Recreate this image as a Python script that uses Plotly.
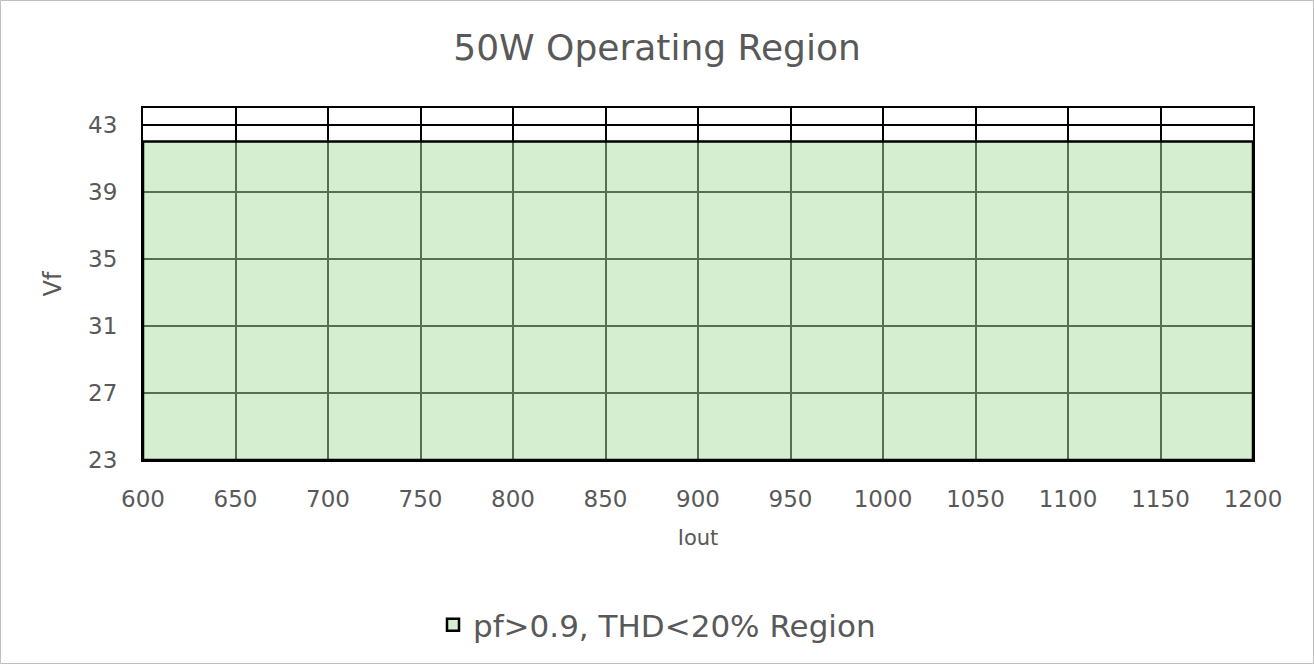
import plotly.graph_objects as go

iout = [600, 1200]
vf_low = [23, 23]
vf_high = [42, 42]
series_name = "pf>0.9, THD<20% Region"
x_ticks = list(range(600, 1201, 50))
y_ticks = [23, 27, 31, 35, 39, 43]

W, H = 1314, 664
L, R, T, B = 143, 61, 108, 204
pw, ph = W - L - R, H - T - B

fig = go.Figure()
fig.add_trace(go.Bar(
    x=[(iout[0] + iout[1]) / 2],
    y=[vf_high[0] - vf_low[0]],
    base=[vf_low[0]],
    width=[iout[1] - iout[0]],
    marker=dict(color="rgba(172,222,160,0.5)",
                line=dict(color="black", width=2.5)),
    name=series_name, showlegend=True, hoverinfo="skip",
))

font_family = "'DejaVu Sans', sans-serif"
gray = "#595959"

fig.update_layout(
    width=W, height=H,
    margin=dict(l=L, r=R, t=T, b=B),
    paper_bgcolor="white", plot_bgcolor="white",
    title=dict(text="50W Operating Region", x=0.5, xanchor="center",
               y=1 - 47 / H, yanchor="middle",
               font=dict(family=font_family, size=36, color=gray)),
    xaxis=dict(range=[600, 1200], tickvals=x_ticks, showgrid=True,
               gridcolor="black", gridwidth=2, zeroline=False,
               showline=True, linecolor="black", linewidth=2, mirror=True,
               tickfont=dict(family=font_family, size=23, color=gray),
               ticks="", ticklabelstandoff=17,
               title=dict(text="Iout", font=dict(family=font_family, size=21, color=gray), standoff=20)),
    yaxis=dict(range=[23, 44], tickvals=y_ticks, showgrid=True,
               gridcolor="black", gridwidth=2, zeroline=False,
               showline=True, linecolor="black", linewidth=2, mirror=True,
               tickfont=dict(family=font_family, size=23, color=gray),
               ticks="", ticklabelstandoff=19,
               title=dict(text="Vf", font=dict(family=font_family, size=24, color=gray), standoff=20)),
    legend=dict(orientation="h", x=(W / 2 - L) / pw, xanchor="center",
                y=(T + ph - 625) / ph, yanchor="middle",
                font=dict(family=font_family, size=31, color=gray),
                bgcolor="rgba(0,0,0,0)"),
    shapes=[dict(type="rect", xref="paper", yref="paper",
                 x0=(0.5 - L) / pw, x1=(W - 0.5 - L) / pw,
                 y0=(ph + T - (H - 0.5)) / ph, y1=(ph + T - 0.5) / ph,
                 line=dict(color="#bfbfbf", width=1), layer="below")],
)

fig.write_html("out.html", config={"displayModeBar": False},
               post_script="document.body.style.margin='0';document.body.style.overflow='hidden';")
